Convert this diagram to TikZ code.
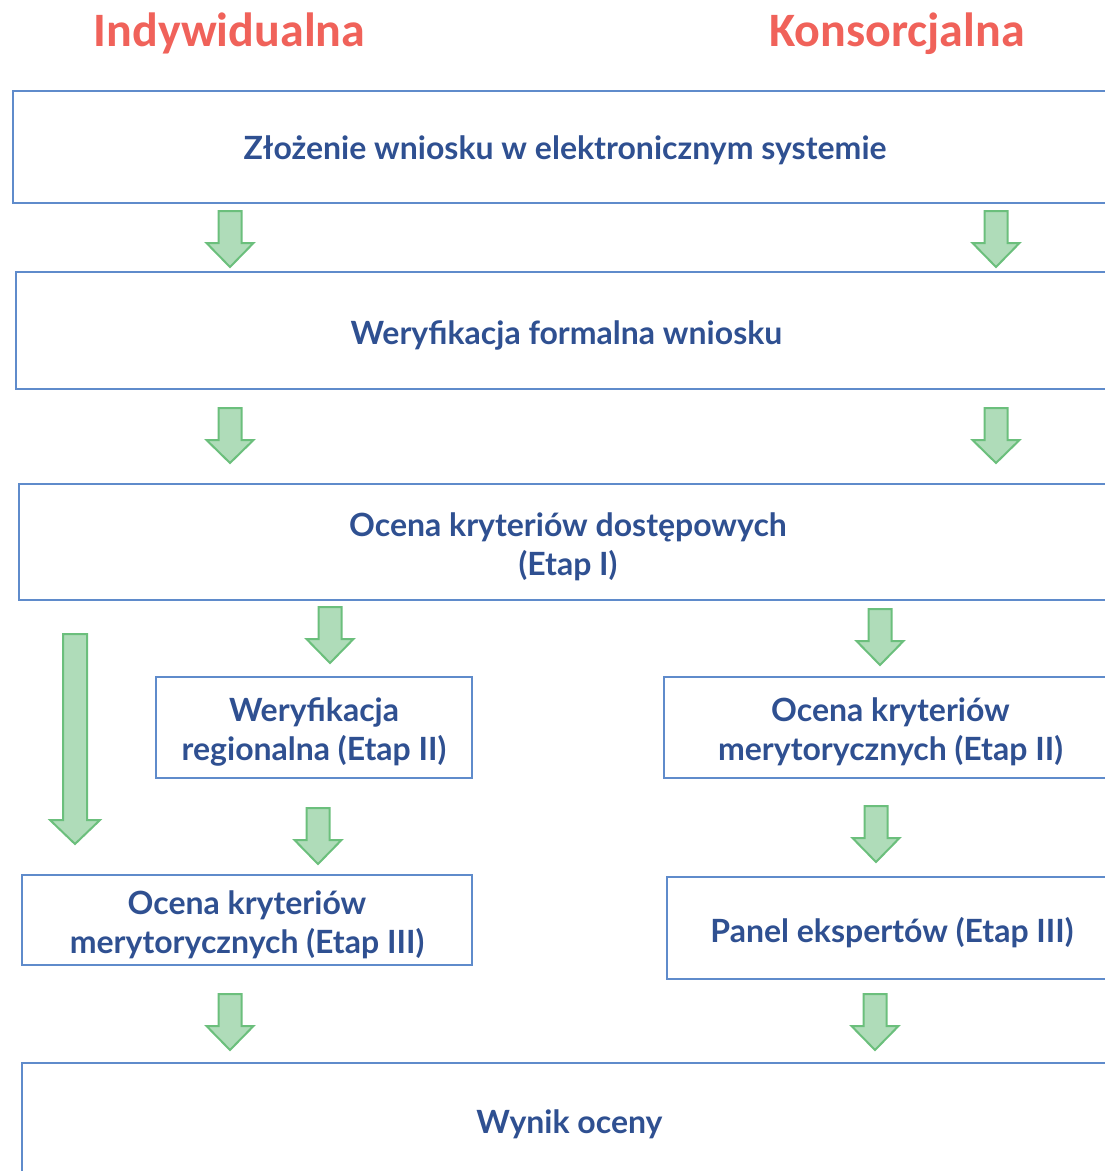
\documentclass[tikz,border=0pt]{standalone}
\usepackage{fontspec}
\setmainfont{Lato}
\newfontfamily\titlefont{Carlito}
\definecolor{titlered}{HTML}{F0625A}
\definecolor{txtblue}{HTML}{2F5091}
\definecolor{boxblue}{HTML}{5F8BCB}
\definecolor{arrfill}{HTML}{AFDCB9}
\definecolor{arrdraw}{HTML}{6BBF7C}
\newcommand{\garr}[4]{%
  \draw[garrow] ({#1-11.5},#2) -- ({#1+11.5},#2) -- ({#1+11.5},#3) -- ({#1+23.5},#3)
    -- (#1,#4) -- ({#1-23.5},#3) -- ({#1-11.5},#3) -- cycle;}
\begin{document}
\begin{tikzpicture}[x=1pt,y=-1pt,
  box/.style={draw=boxblue, line width=2.5pt, inner sep=0pt},
  txt/.style={text=txtblue, align=center, inner sep=0pt,
    font=\fontsize{32}{39}\selectfont\bfseries, yshift=-4.5pt},
  ttl/.style={text=titlered, font=\titlefont\fontsize{48}{56}\selectfont\bfseries, inner sep=0pt},
  garrow/.style={fill=arrfill, draw=arrdraw, line width=2pt, line join=miter}]
\useasboundingbox (0,0) rectangle (1105,1171);
\clip (0,0) rectangle (1105,1171);
\node[ttl] (t1) at (229.5,33) {Indywidualna};
\node[ttl] (t2) at (897,34) {Konsorcjalna};

\node[box, minimum width=1104, minimum height=112,
  label={[txt,yshift=1.5pt]center:Złożenie wniosku w elektronicznym systemie}] (b1) at (565,147) {};
\node[box, minimum width=1101, minimum height=117,
  label={[txt]center:Weryfikacja formalna wniosku}] (b2) at (566.5,330.5) {};
\node[box, minimum width=1098, minimum height=116,
  label={[txt]center:{Ocena kryteriów dostępowych\\(Etap I)}}] (b3) at (568,542) {};
\node[box, minimum width=316, minimum height=101,
  label={[txt]center:{Weryfikacja\\regionalna (Etap II)}}] (b4) at (314,727.5) {};
\node[box, minimum width=453, minimum height=101,
  label={[txt]center:{Ocena kryteriów\\merytorycznych (Etap II)}}] (b5) at (890.5,727.5) {};
\node[box, minimum width=450, minimum height=90,
  label={[txt]center:{Ocena kryteriów\\merytorycznych (Etap III)}}] (b6) at (247,920) {};
\node[box, minimum width=450, minimum height=102,
  label={[txt]center:Panel ekspertów (Etap III)}] (b7) at (892,928) {};
\node[box, minimum width=1095, minimum height=117,
  label={[txt,yshift=1.5pt]center:Wynik oceny}] (b8) at (569.5,1121.5) {};

\garr{230}{211}{243}{267}
\garr{996}{211}{243}{267}
\garr{230}{408}{440}{463}
\garr{996}{408}{440}{463}
\garr{330}{607}{639}{663}
\garr{880}{609}{641}{665}
\draw[garrow] (63,634) -- (87,634) -- (87,820) -- (100,820) -- (75,844) -- (50,820) -- (63,820) -- cycle;
\garr{318}{808}{840}{864}
\garr{876}{806}{838}{862}
\garr{230}{994}{1026}{1050}
\garr{875}{994}{1026}{1050}
\end{tikzpicture}
\end{document}
